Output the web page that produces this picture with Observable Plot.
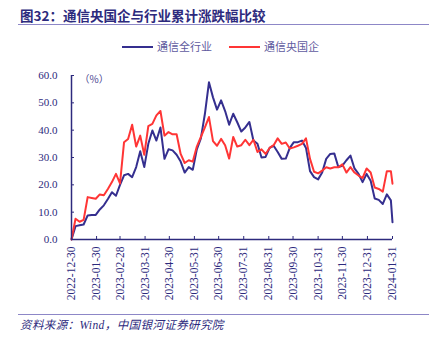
<!DOCTYPE html>
<html>
<head>
<meta charset="utf-8">
<script src="https://cdn.jsdelivr.net/npm/d3@7"></script>
<script src="https://cdn.jsdelivr.net/npm/@observablehq/plot@0.6"></script>
<style>
  html, body { margin: 0; padding: 0; background: #fff; }
  #wrap { position: relative; width: 429px; height: 343px; overflow: hidden; background: #fff; }
  #title { position: absolute; left: 20px; top: 5px; font: bold 13.5px "Noto Sans CJK SC", sans-serif; color: #2D2A7D; white-space: nowrap; }
  .hline { position: absolute; left: 18px; width: 411px; height: 1px; background: #8D87C7; }
  #legend { position: absolute; top: 38px; left: 0; width: 429px; height: 16px; font: 11px "Noto Sans CJK SC", sans-serif; color: #5F5BA0; }
  .lg { position: absolute; top: 0; white-space: nowrap; line-height: 16px; }
  .sw { display: inline-block; width: 31px; height: 0; border-top: 2px solid; vertical-align: middle; margin-right: 4px; position: relative; top: -1px; }
  #plot { position: absolute; left: 0; top: 60px; }
  #source { position: absolute; left: 20px; top: 316px; font: italic 11.5px "Liberation Serif", "Noto Sans CJK SC", serif; color: #2D2A7D; white-space: nowrap; letter-spacing: 0.4px; }
</style>
</head>
<body>
<div id="wrap">
  <div id="title"></div>
  <div class="hline" style="top:24px"></div>
  <div id="legend"></div>
  <div id="plot"></div>
  <div class="hline" style="top:314px"></div>
  <div id="source"></div>
</div>
<script>
const titleText = "图32：通信央国企与行业累计涨跌幅比较";
const sourceText = "资料来源：Wind，中国银河证券研究院";
const unitLabel = "（%）";
const seriesNames = ["通信全行业", "通信央国企"];
const seriesColors = ["#352F8F", "#FF3535"];

const dates = ["2022-12-30","2023-01-04","2023-01-09","2023-01-14","2023-01-19","2023-01-24","2023-01-29","2023-02-03","2023-02-08","2023-02-13","2023-02-18","2023-02-23","2023-02-28","2023-03-05","2023-03-10","2023-03-15","2023-03-20","2023-03-25","2023-03-30","2023-04-04","2023-04-09","2023-04-14","2023-04-19","2023-04-24","2023-04-29","2023-05-04","2023-05-09","2023-05-14","2023-05-19","2023-05-24","2023-05-29","2023-06-03","2023-06-08","2023-06-13","2023-06-18","2023-06-23","2023-06-28","2023-07-03","2023-07-08","2023-07-13","2023-07-18","2023-07-23","2023-07-28","2023-08-02","2023-08-07","2023-08-12","2023-08-17","2023-08-22","2023-08-27","2023-09-01","2023-09-06","2023-09-11","2023-09-16","2023-09-21","2023-09-26","2023-10-01","2023-10-06","2023-10-11","2023-10-16","2023-10-21","2023-10-26","2023-10-31","2023-11-05","2023-11-10","2023-11-15","2023-11-20","2023-11-25","2023-11-30","2023-12-05","2023-12-10","2023-12-15","2023-12-20","2023-12-25","2023-12-30","2024-01-04","2024-01-09","2024-01-14","2024-01-19","2024-01-24","2024-01-29","2024-01-31"];

const industryAll = [
  0, 4.9, 5.2, 5.5, 8.8, 9.0, 9.0, 11.0, 12.5, 14.8,
  17.3, 16.0, 20.0, 23.5, 24.0, 22.8, 26.5, 32.3, 26.5, 35.0,
  39.9, 36.2, 41.0, 29.5, 33.0, 32.6, 31.0, 28.5, 24.5, 26.5,
  25.5, 33.0, 37.0, 46.0, 57.5, 52.0, 47.5, 50.9, 47.0, 42.0,
  46.0, 42.9, 39.5, 41.0, 43.0, 36.2, 35.0, 30.0, 30.2, 33.5,
  34.3, 32.0, 29.5, 29.6, 33.5, 35.6, 35.6, 36.2, 33.5, 25.0,
  22.8, 22.0, 24.5, 29.5, 31.3, 31.5, 26.5, 27.0, 29.0, 30.7,
  26.0, 24.0, 21.0, 24.0, 21.5, 15.0, 14.5, 13.0, 16.5, 14.3,
  6.3
];

const stateOwned = [
  0, 7.6, 6.5, 7.2, 15.5, 15.2, 14.9, 16.5, 16.2, 18.5,
  21.0, 24.0, 20.5, 35.6, 36.8, 42.0, 34.0, 38.0, 31.0, 41.5,
  42.3, 45.4, 47.0, 38.0, 39.3, 38.5, 38.5, 31.3, 28.0, 29.0,
  28.5, 34.0, 37.5, 41.0, 44.8, 36.0, 34.3, 36.8, 34.5, 29.6,
  37.5, 34.0, 34.5, 36.5, 34.5, 36.5, 32.0, 33.0, 31.3, 33.5,
  34.5, 37.0, 35.0, 35.5, 33.3, 33.7, 34.3, 35.0, 37.0, 29.5,
  24.8, 24.2, 25.2, 26.4, 26.0, 26.4, 26.4, 27.5, 24.5, 26.5,
  24.5, 23.4, 22.5, 26.0, 24.5, 19.0, 18.5, 17.5, 25.0, 25.0,
  20.4
];

const xTickLabels = ["2022-12-30","2023-01-30","2023-02-28","2023-03-31","2023-04-30","2023-05-31","2023-06-30","2023-07-31","2023-08-31","2023-09-30","2023-10-31","2023-11-30","2023-12-31","2024-01-31"];
const yTicks = [0, 10, 20, 30, 40, 50, 60];

const navy = "#2D2A7D";
const parse = d3.utcParse("%Y-%m-%d");
const fmt = d3.utcFormat("%Y-%m-%d");
const xTicks = xTickLabels.map(parse);

const data = [];
[industryAll, stateOwned].forEach((vals, s) => {
  vals.forEach((v, i) => data.push({date: parse(dates[i]), value: v, series: seriesNames[s]}));
});

document.getElementById("title").textContent = titleText;
document.getElementById("source").textContent = sourceText;

const legend = document.getElementById("legend");
const legendLefts = [122, 229];
seriesNames.forEach((name, i) => {
  const item = document.createElement("div");
  item.className = "lg";
  item.style.left = legendLefts[i] + "px";
  const sw = document.createElement("span");
  sw.className = "sw";
  sw.style.borderColor = seriesColors[i];
  item.appendChild(sw);
  item.appendChild(document.createTextNode(name));
  legend.appendChild(item);
});

const chart = Plot.plot({
  width: 429,
  height: 250,
  marginLeft: 71,
  marginRight: 37,
  marginTop: 15,
  marginBottom: 71,
  style: {fontFamily: "'Liberation Serif', 'DejaVu Serif', serif", fontSize: "11px", color: navy, background: "transparent", overflow: "visible"},
  x: {type: "utc", domain: [xTicks[0], xTicks[xTicks.length - 1]]},
  y: {domain: [0, 60]},
  color: {domain: seriesNames, range: seriesColors},
  marks: [
    Plot.axisY(yTicks, {tickSize: 0, tickPadding: 14, tickFormat: d => d.toFixed(1), label: null, fill: navy}),
    Plot.axisY(yTicks, {tickSize: 3, dx: 3, tickFormat: () => "", label: null, stroke: navy}),
    Plot.axisX(xTicks, {tickSize: 0, tickPadding: 7, tickRotate: -90, tickFormat: fmt, label: null, fill: navy, fontSize: 11.5}),
    Plot.axisX(xTicks, {tickSize: 3, dy: -3, tickFormat: () => "", label: null, stroke: navy}),
    Plot.line(data, {x: "date", y: "value", z: "series", stroke: "series", strokeWidth: 2}),
    Plot.ruleX([xTicks[0]], {stroke: navy, strokeWidth: 1.5}),
    Plot.ruleY([0], {stroke: navy, strokeWidth: 1.5}),
    Plot.text([unitLabel], {frameAnchor: "top-left", dx: 8, dy: 0, fontSize: 10, fill: "#4A4690", fontFamily: "'Noto Sans CJK SC', sans-serif"})
  ]
});
document.getElementById("plot").appendChild(chart);
</script>
</body>
</html>
